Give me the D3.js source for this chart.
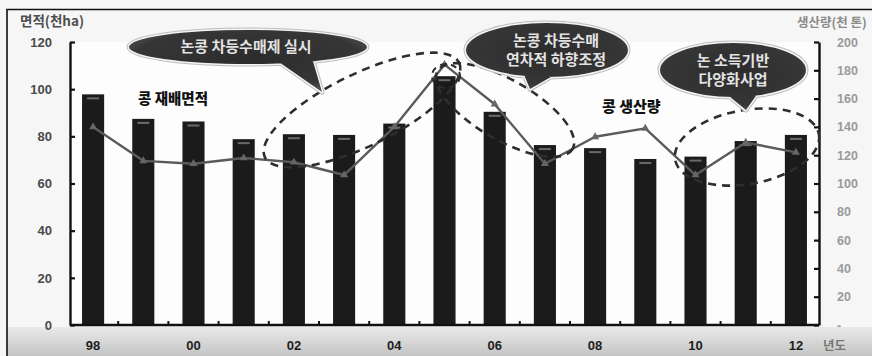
<!DOCTYPE html>
<html>
<head>
<meta charset="utf-8">
<script src="https://cdn.jsdelivr.net/npm/d3@7"></script>
<style>
  html, body { margin: 0; padding: 0; background: #f6f6f6; }
  svg { display: block; }
</style>
</head>
<body>
<svg id="chart" width="872" height="356"></svg>
<script>
// Soybean cultivated area (thousand ha) and production (thousand tons), 1998–2012
const years = ["98","99","00","01","02","03","04","05","06","07","08","09","10","11","12"];
const area = [97.8, 87.4, 86.3, 78.8, 80.9, 80.6, 85.4, 105.5, 90.4, 76.3, 75.0, 70.4, 71.4, 78.0, 80.6];
const production = [140, 116, 114, 118, 115, 106, 140, 184, 156, 114, 133, 139, 106, 129, 122];
const xTickLabels = ["98","00","02","04","06","08","10","12"];
const leftTicks = [0, 20, 40, 60, 80, 100, 120];
const rightTicks = [0, 20, 40, 60, 80, 100, 120, 140, 160, 180, 200];

const W = 872, H = 356;
const plot = { left: 70, right: 819, top: 42, bottom: 325 };
const KR = "'Noto Sans CJK KR', 'Noto Sans', sans-serif";
const NUM = "'Liberation Sans', Arial, sans-serif";

const svg = d3.select("#chart");
const defs = svg.append("defs");

// grey band along the bottom edge
const bandGrad = defs.append("linearGradient").attr("id", "bandGrad")
  .attr("x1", 0).attr("y1", 0).attr("x2", 0).attr("y2", 1);
bandGrad.append("stop").attr("offset", "0%").attr("stop-color", "#eaeaea");
bandGrad.append("stop").attr("offset", "100%").attr("stop-color", "#c4c4c4");

// speech bubble fill
const bubGrad = defs.append("radialGradient").attr("id", "bubGrad")
  .attr("cx", "50%").attr("cy", "45%").attr("r", "60%");
bubGrad.append("stop").attr("offset", "0%").attr("stop-color", "#2c2c2c");
bubGrad.append("stop").attr("offset", "80%").attr("stop-color", "#363636");
bubGrad.append("stop").attr("offset", "100%").attr("stop-color", "#555");

// page
svg.append("rect").attr("width", W).attr("height", H).attr("fill", "#f6f6f6");
svg.append("rect").attr("x", 7).attr("y", 327).attr("width", W - 7).attr("height", H - 327)
  .attr("fill", "url(#bandGrad)");
svg.append("rect").attr("x", plot.left).attr("y", plot.top)
  .attr("width", plot.right - plot.left).attr("height", plot.bottom - plot.top).attr("fill", "#fdfdfd");

// frame
svg.append("path").attr("d", `M7,${H} V9.5 H${W}`).attr("fill", "none")
  .attr("stroke", "#111").attr("stroke-width", 1.6);

// scales
const x = d3.scaleBand().domain(years).range([plot.left, plot.right])
  .paddingInner(0.56).paddingOuter(0.24);
const yL = d3.scaleLinear().domain([0, 120]).range([plot.bottom, plot.top]);
const yR = d3.scaleLinear().domain([0, 200]).range([plot.bottom, plot.top]);

// bars: cultivated area
const bars = svg.append("g");
bars.selectAll("rect.bar").data(years).join("rect").attr("class", "bar")
  .attr("x", d => x(d)).attr("width", x.bandwidth())
  .attr("y", (d, i) => yL(area[i])).attr("height", (d, i) => plot.bottom - yL(area[i]))
  .attr("fill", "#1b1b1b");
bars.selectAll("rect.cap").data(years).join("rect").attr("class", "cap")
  .attr("x", d => x(d) + x.bandwidth() / 2 - 6).attr("width", 12)
  .attr("y", (d, i) => yL(area[i]) + 3).attr("height", 2)
  .attr("fill", "#6a6a6a");

// line: production
const cx = d => x(d) + x.bandwidth() / 2;
const line = d3.line().x((d, i) => cx(years[i])).y(d => yR(d));
svg.append("path").datum(production).attr("d", line)
  .attr("fill", "none").attr("stroke", "#5a5a5a").attr("stroke-width", 2.4)
  .attr("stroke-linejoin", "round");
svg.append("g").selectAll("path").data(production).join("path")
  .attr("transform", (d, i) => `translate(${cx(years[i])},${yR(d)})`)
  .attr("d", d3.symbol(d3.symbolTriangle, 28))
  .attr("fill", "#666");

// axes
const axL = svg.append("g").attr("transform", `translate(${plot.left},0)`)
  .call(d3.axisLeft(yL).tickValues(leftTicks).tickSizeInner(-5).tickSizeOuter(0).tickPadding(18));
const axR = svg.append("g").attr("transform", `translate(${plot.right},0)`)
  .call(d3.axisRight(yR).tickValues(rightTicks).tickSizeInner(-5).tickSizeOuter(0).tickPadding(18)
    .tickFormat(d => d === 0 ? "-" : d));
[axL, axR].forEach(a => {
  a.select(".domain").attr("stroke", "#111").attr("stroke-width", 2.4);
  a.selectAll(".tick line").attr("stroke", "#111").attr("stroke-width", 2.2);
});
axL.selectAll(".tick text").attr("font-family", NUM).attr("font-weight", "bold")
  .attr("font-size", 13).attr("fill", "#4a4a4a");
axR.selectAll(".tick text").attr("font-family", NUM).attr("font-weight", "bold")
  .attr("font-size", 12.5).attr("fill", "#9a9a9a");

// x axis baseline with ticks between bars
const axX = svg.append("g");
axX.append("line").attr("x1", plot.left).attr("x2", plot.right)
  .attr("y1", plot.bottom).attr("y2", plot.bottom)
  .attr("stroke", "#111").attr("stroke-width", 2.6);
axX.selectAll("line.sep").data(years.slice(0, -1)).join("line").attr("class", "sep")
  .attr("x1", d => x(d) + x.step() - (x.step() - x.bandwidth()) / 2)
  .attr("x2", d => x(d) + x.step() - (x.step() - x.bandwidth()) / 2)
  .attr("y1", plot.bottom).attr("y2", plot.bottom - 4)
  .attr("stroke", "#111").attr("stroke-width", 2);
axX.selectAll("text").data(xTickLabels).join("text")
  .attr("x", d => cx(d)).attr("y", 350).attr("text-anchor", "middle")
  .attr("font-family", NUM).attr("font-weight", "bold").attr("font-size", 13)
  .attr("fill", "#1e1e1e").text(d => d);
svg.append("text").attr("x", 823).attr("y", 350)
  .attr("font-family", KR).attr("font-weight", "bold").attr("font-size", 12.5)
  .attr("fill", "#777").text("년도");

// axis titles
svg.append("text").attr("x", 20).attr("y", 26)
  .attr("font-family", KR).attr("font-weight", "bold").attr("font-size", 13.5)
  .attr("fill", "#4e4e4e").text("면적(천ha)");
svg.append("text").attr("x", 797).attr("y", 27)
  .attr("font-family", KR).attr("font-weight", "bold").attr("font-size", 12.5)
  .attr("fill", "#8a8a8a").text("생산량(천 톤)");

// series labels
svg.append("text").attr("x", 138).attr("y", 104)
  .attr("font-family", KR).attr("font-weight", "900").attr("font-size", 14.5)
  .attr("fill", "#111").text("콩 재배면적");
svg.append("text").attr("x", 602).attr("y", 112)
  .attr("font-family", KR).attr("font-weight", "900").attr("font-size", 15)
  .attr("fill", "#111").text("콩 생산량");

// dashed highlight ellipses
const dashed = svg.append("g").attr("fill", "none").attr("stroke", "#2e2e2e")
  .attr("stroke-width", 2.6).attr("stroke-dasharray", "8,6");
dashed.append("ellipse").attr("cx", 0).attr("cy", 0).attr("rx", 108).attr("ry", 36)
  .attr("transform", "translate(362,110) rotate(-26)");
dashed.append("ellipse").attr("cx", 0).attr("cy", 0).attr("rx", 78).attr("ry", 30)
  .attr("transform", "translate(505,110) rotate(30)");
dashed.append("ellipse").attr("cx", 0).attr("cy", 0).attr("rx", 14).attr("ry", 12)
  .attr("transform", "translate(446,76)").attr("stroke-dasharray", "6,5").attr("stroke-width", 2);
dashed.append("ellipse").attr("cx", 0).attr("cy", 0).attr("rx", 73).attr("ry", 37)
  .attr("transform", "translate(747,147) rotate(-10)");

// speech bubbles
const bubbles = [
  { cx: 248, cy: 47, rx: 119, ry: 17, tail: [[276, 60], [312, 58], [322, 92]],
    lines: ["논콩 차등수매제 실시"], size: 15, dx: -2 },
  { cx: 547, cy: 50, rx: 81, ry: 27, tail: [[522, 70], [556, 74], [530, 89]],
    lines: ["논콩 차등수매", "연차적 하향조정"], size: 15, dx: 9 },
  { cx: 733, cy: 70, rx: 73, ry: 27, tail: [[724, 92], [760, 90], [746, 110]],
    lines: ["논 소득기반", "다양화사업"], size: 15, dx: 0 }
];
const bubblePath = b => {
  const e = `M${b.cx - b.rx},${b.cy} A${b.rx},${b.ry} 0 1,0 ${b.cx + b.rx},${b.cy} A${b.rx},${b.ry} 0 1,0 ${b.cx - b.rx},${b.cy} Z`;
  const t = `M${b.tail[0]} L${b.tail[2]} L${b.tail[1]} Z`;
  return e + " " + t;
};
const bg = svg.append("g");
bubbles.forEach(b => {
  bg.append("path").attr("d", bubblePath(b)).attr("fill", "none")
    .attr("stroke", "#bdbdbd").attr("stroke-width", 5).attr("stroke-linejoin", "round");
  bg.append("path").attr("d", bubblePath(b)).attr("fill", "none")
    .attr("stroke", "#f4f4f4").attr("stroke-width", 3).attr("stroke-linejoin", "round");
  bg.append("path").attr("d", bubblePath(b)).attr("fill", "url(#bubGrad)").attr("stroke", "none");
  const n = b.lines.length;
  b.lines.forEach((ln, i) => {
    bg.append("text").attr("x", b.cx + b.dx)
      .attr("y", b.cy + (i - (n - 1) / 2) * 19)
      .attr("dy", "0.36em").attr("text-anchor", "middle")
      .attr("font-family", KR).attr("font-weight", "bold").attr("font-size", b.size)
      .attr("fill", "#e2e2e2").text(ln);
  });
});
</script>
</body>
</html>
